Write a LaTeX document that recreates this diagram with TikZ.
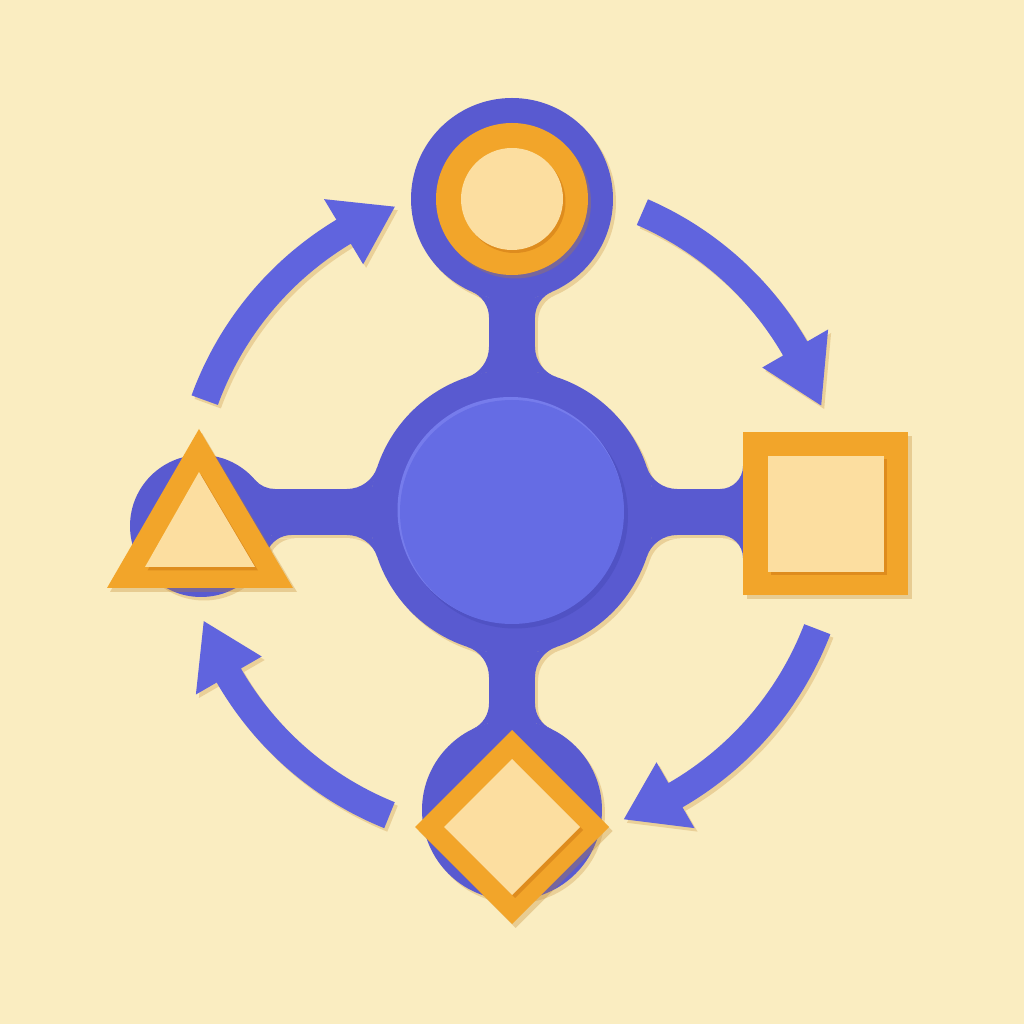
\documentclass[tikz,border=0pt]{standalone}
\definecolor{bg}{RGB}{250,237,193}
\definecolor{tanshadow}{RGB}{234,208,152}
\definecolor{hubblue}{RGB}{89,90,208}
\definecolor{centerblue}{RGB}{101,108,228}
\definecolor{centershade}{RGB}{80,82,196}
\definecolor{centerhi}{RGB}{118,124,236}
\definecolor{arrowblue}{RGB}{96,100,222}
\definecolor{orangeA}{RGB}{242,165,42}
\definecolor{orangeD}{RGB}{222,140,30}
\definecolor{creamA}{RGB}{252,222,160}
\definecolor{shadowbrown}{RGB}{190,130,40}

% fillet between a straight stem edge (local x = a, stem on x<a, along local +y)
% and a circle of radius R at the local origin
\newcommand{\filletpiece}[6]{%
  \pgfmathsetmacro\fcx{#5+#6}%
  \pgfmathsetmacro\fcy{sqrt((#4+#6)*(#4+#6)-\fcx*\fcx)}%
  \pgfmathsetmacro\fpy{sqrt(#4*#4-#5*#5)}%
  \pgfmathsetmacro\fst{atan2(-\fcy,-\fcx)}%
  \pgfmathsetmacro\ftx{#4*\fcx/(#4+#6)}%
  \pgfmathsetmacro\fty{#4*\fcy/(#4+#6)}%
  \begin{scope}[shift={#1},rotate=#2,xscale=#3]
    \fill (#5,\fcy) -- (#5,\fpy) -- (\ftx,\fty)
      arc[start angle=\fst, end angle=-180, radius=#6] -- cycle;
  \end{scope}}

\newcommand{\hubshape}{%
  \fill (51.2,51.2) circle[radius=14.2];
  \fill (51.2,82.5) circle[radius=10.1];
  \fill (51.2,21.4) circle[radius=9.0];
  \fill (20.1,49.8) circle[radius=7.1];
  \fill (48.9,51.2) rectangle (53.5,82.5);
  \fill (48.9,21.4) rectangle (53.5,51.2);
  \fill (20.1,48.9) rectangle (51.2,53.5);
  \fill (51.2,48.9) rectangle (74.3,53.5);
  \filletpiece{(51.2,51.2)}{0}{1}{14.2}{2.3}{3.2}
  \filletpiece{(51.2,51.2)}{0}{-1}{14.2}{2.3}{3.2}
  \filletpiece{(51.2,51.2)}{90}{1}{14.2}{2.3}{3.2}
  \filletpiece{(51.2,51.2)}{90}{-1}{14.2}{2.3}{3.2}
  \filletpiece{(51.2,51.2)}{180}{1}{14.2}{2.3}{3.2}
  \filletpiece{(51.2,51.2)}{180}{-1}{14.2}{2.3}{3.2}
  \filletpiece{(51.2,51.2)}{-90}{1}{14.2}{2.3}{3.2}
  \filletpiece{(51.2,51.2)}{-90}{-1}{14.2}{2.3}{3.2}
  \filletpiece{(51.2,82.5)}{180}{1}{10.1}{2.3}{2.8}
  \filletpiece{(51.2,82.5)}{180}{-1}{10.1}{2.3}{2.8}
  \filletpiece{(51.2,21.4)}{0}{1}{9.0}{2.3}{2.8}
  \filletpiece{(51.2,21.4)}{0}{-1}{9.0}{2.3}{2.8}
  \filletpiece{(20.1,49.8)}{-90}{1}{7.1}{0.9}{2.6}
  \filletpiece{(20.1,49.8)}{-90}{-1}{7.1}{3.7}{2.6}
  \fill (72.0,53.5) -- (74.3,53.5) -- (74.3,55.8) arc[start angle=0,end angle=-90,radius=2.3] -- cycle;
  \fill (72.0,48.9) -- (74.3,48.9) -- (74.3,46.6) arc[start angle=0,end angle=90,radius=2.3] -- cycle;
}

% curved arrow: #1 tail angle, #2 head base angle, #3 tip angle
\newcommand{\arcarrow}[3]{%
  \begin{scope}[shift={(51.2,51.2)}]
    \fill (#1:34.1) arc[start angle=#1, end angle=#2, radius=34.1]
      -- (#2:36.5) -- (#3:32.7) -- (#2:28.9) -- (#2:31.3)
      arc[start angle=#2, end angle=#1, radius=31.3] -- cycle;
  \end{scope}}

\newcommand{\allarrows}{%
  \arcarrow{160}{121}{111}
  \arcarrow{66.5}{30}{19}
  \arcarrow{-21}{-60}{-70}
  \arcarrow{-112}{-150}{-160.5}}

\begin{document}
\begin{tikzpicture}[x=2.5mm,y=2.5mm]
\fill[bg] (0,0) rectangle (102.4,102.4);
\useasboundingbox (0,0) rectangle (102.4,102.4);

% arrows
\begin{scope}[fill=tanshadow, shift={(0.3,-0.35)}]
  \allarrows
\end{scope}
\begin{scope}[fill=arrowblue]
  \allarrows
\end{scope}

% hub
\begin{scope}[fill=tanshadow, shift={(0.3,-0.35)}]
  \hubshape
\end{scope}
\begin{scope}[fill=hubblue]
  \hubshape
\end{scope}

% central disc
\fill[centershade] (51.5,50.85) circle[radius=11.3];
\fill[centerhi] (51.05,51.4) circle[radius=11.3];
\fill[centerblue] (51.2,51.2) circle[radius=11.2];

% top ring
\fill[shadowbrown, fill opacity=0.3] (51.5,82.15) circle[radius=7.6];
\fill[orangeA] (51.2,82.5) circle[radius=7.6];
\fill[orangeD] (51.45,82.2) circle[radius=5.1];
\fill[creamA] (51.2,82.5) circle[radius=5.1];

% right square
\fill[shadowbrown, fill opacity=0.3] (74.7,42.5) rectangle (91.2,58.8);
\fill[orangeA] (74.3,42.9) rectangle (90.8,59.2);
\fill[orangeD] (77.1,44.85) rectangle (88.7,56.5);
\fill[creamA] (76.8,45.2) rectangle (88.4,56.8);

% left triangle
\fill[shadowbrown, fill opacity=0.3] (20.2,59.1) -- (29.7,43.2) -- (11.0,43.2) -- cycle;
\fill[orangeA] (19.9,59.5) -- (29.3,43.6) -- (10.7,43.6) -- cycle;
\fill[orangeD] (20.15,54.9) -- (25.8,45.35) -- (14.75,45.35) -- cycle;
\fill[creamA] (19.9,55.2) -- (25.5,45.7) -- (14.5,45.7) -- cycle;

% bottom diamond
\fill[shadowbrown, fill opacity=0.3] (51.55,29.0) -- (61.25,19.3) -- (51.55,9.6) -- (41.85,19.3) -- cycle;
\fill[orangeA] (51.2,29.4) -- (60.9,19.7) -- (51.2,10.0) -- (41.5,19.7) -- cycle;
\fill[orangeD] (51.5,26.2) -- (58.3,19.4) -- (51.5,12.6) -- (44.7,19.4) -- cycle;
\fill[creamA] (51.2,26.5) -- (58.0,19.7) -- (51.2,12.9) -- (44.4,19.7) -- cycle;
\end{tikzpicture}
\end{document}
